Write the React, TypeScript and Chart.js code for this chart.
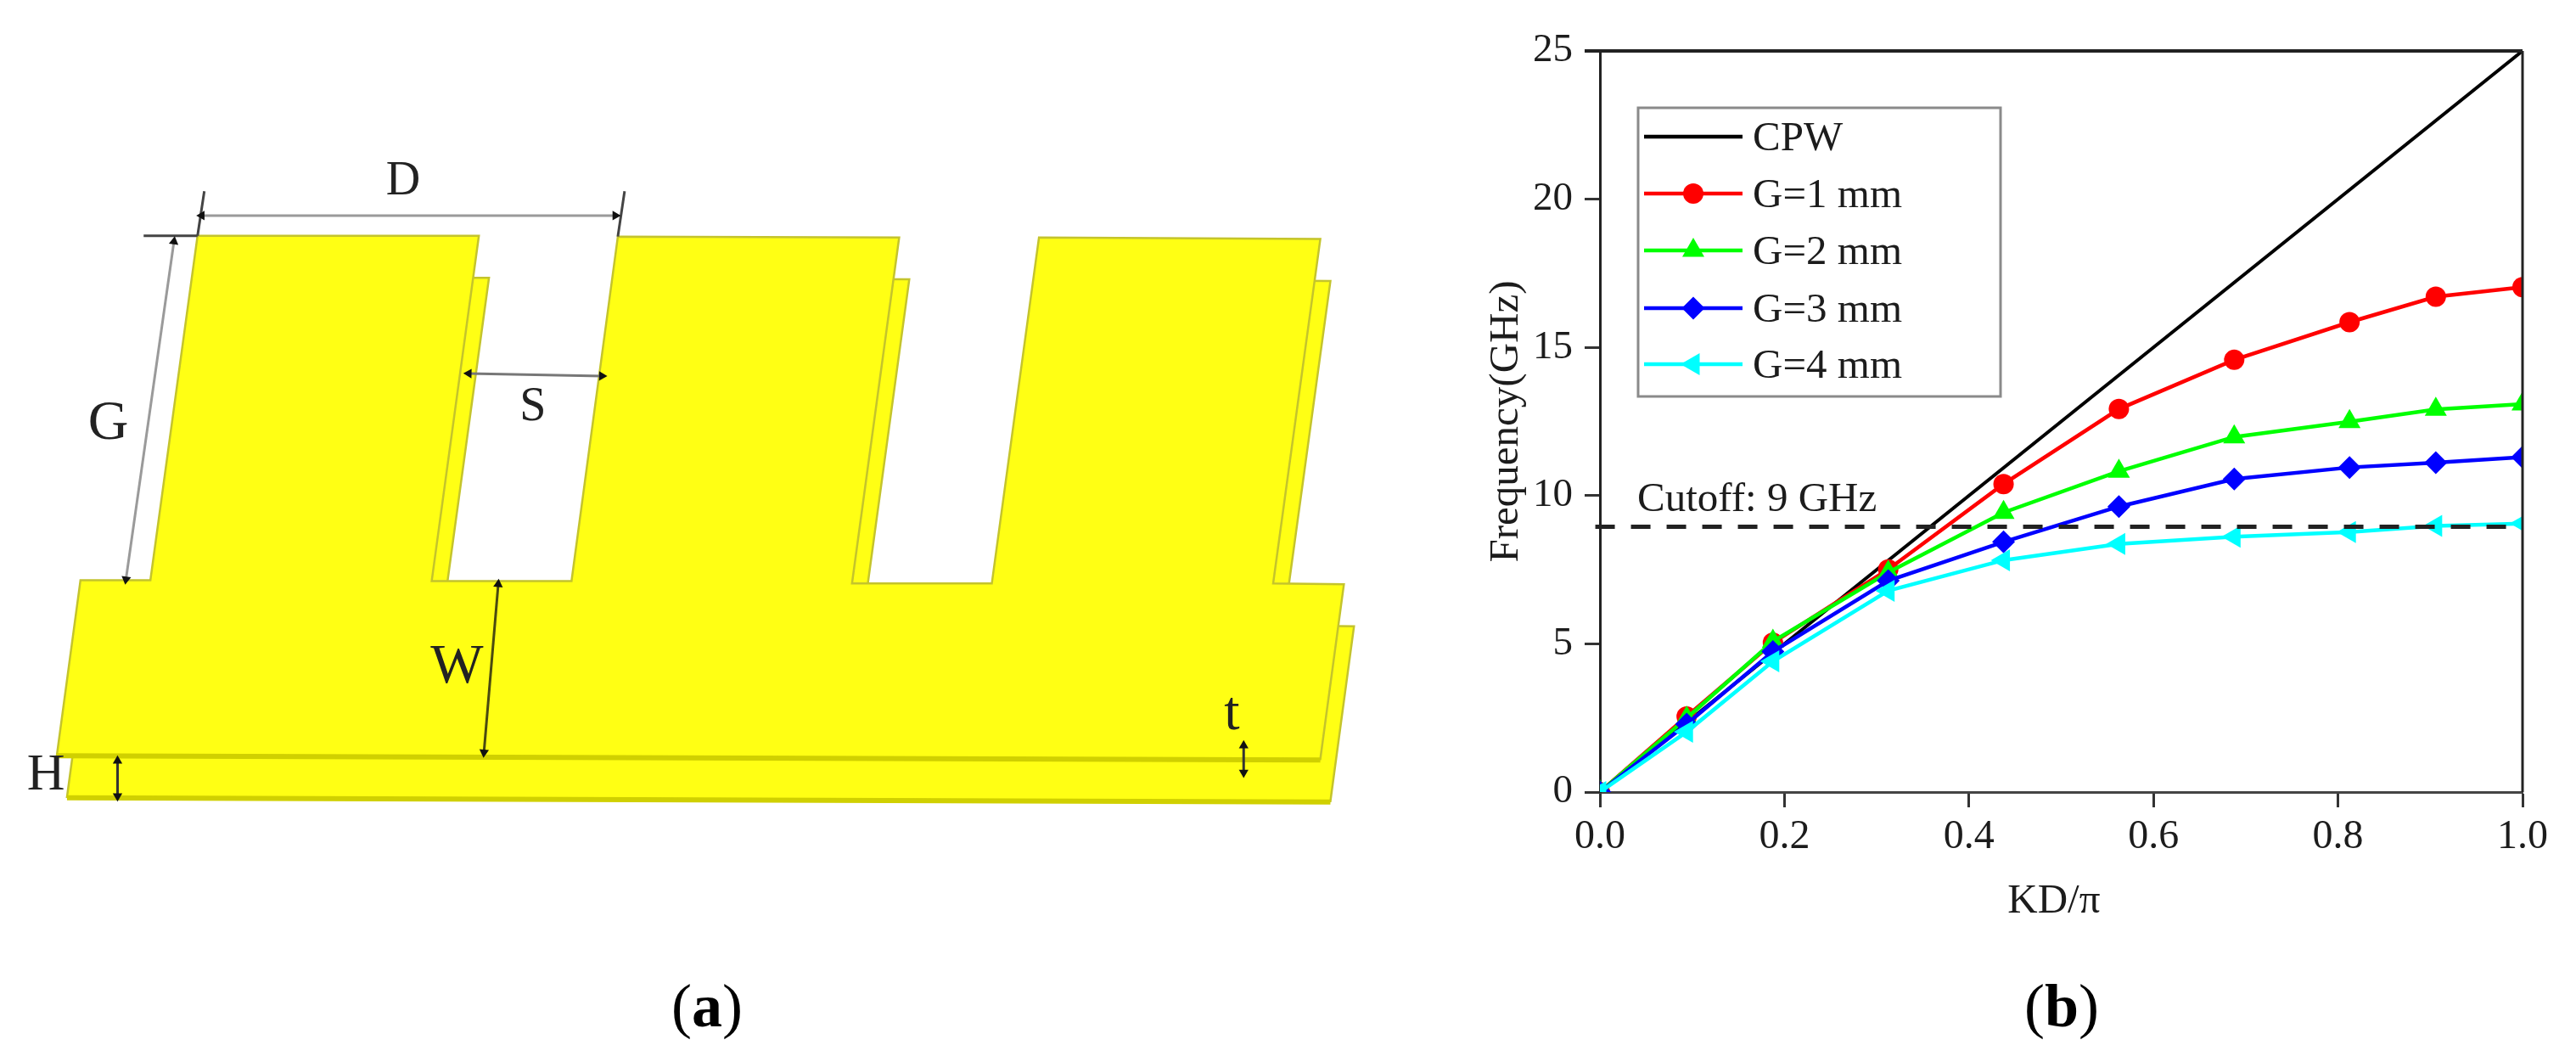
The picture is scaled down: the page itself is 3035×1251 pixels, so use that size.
import React, { useEffect, useRef } from "react";
import { Chart, registerables } from "chart.js";
import { drawPoint } from "chart.js/helpers";

Chart.register(...registerables);

const SERIF = '"Liberation Serif", "Times New Roman", serif';

// ---------- dispersion data (panel b) ----------
const kd = [0, 0.094, 0.1875, 0.3125, 0.4375, 0.5625, 0.6875, 0.8125, 0.906, 1.0];
const g1 = [0, 2.55, 5.04, 7.51, 10.39, 12.92, 14.58, 15.85, 16.71, 17.03];
const g2 = [0, 2.49, 5.08, 7.41, 9.43, 10.82, 11.98, 12.49, 12.91, 13.09];
const g3 = [0, 2.29, 4.74, 7.13, 8.44, 9.63, 10.56, 10.95, 11.11, 11.3];
const g4 = [0, 2.03, 4.41, 6.79, 7.82, 8.37, 8.61, 8.77, 8.98, 9.06];
const cpwX = [0, 1];
const cpwY = [0, 25];
const cutoffX = [-0.005, 1];
const cutoffY = [8.95, 8.95];
const yTicks = [0, 5, 10, 15, 20, 25];
const xTicks = [0, 0.2, 0.4, 0.6, 0.8, 1.0];

// ---------- schematic outline (panel a), in the diagram's own units ----------
const frontPlate: [number, number][] = [
  [228, 274], [562, 274], [506, 685], [672, 685], [727, 275], [1061, 276], [1005, 688], [1171, 688],
  [1227, 276], [1561, 278], [1505, 688], [1589, 689], [1561, 897], [61, 892], [89, 684], [172, 684], [228, 274],
];
const backPlate: [number, number][] = [
  [240, 324], [574, 324], [518, 735], [684, 735], [739, 325], [1073, 326], [1017, 738], [1183, 738],
  [1239, 326], [1573, 328], [1517, 738], [1601, 739], [1573, 947], [73, 942], [101, 734], [184, 734], [240, 324],
];
const frontEdge: [number, number][] = [[61, 893], [1561, 898]];
const backEdge: [number, number][] = [[73, 943], [1573, 948]];
const tickD1: [number, number][] = [[228, 274], [236, 221]];
const tickD2: [number, number][] = [[727, 275], [735, 221]];
const tickG: [number, number][] = [[164, 274], [228, 274]];
const dimD: [number, number][] = [[233, 250], [724, 250]];
const dimG: [number, number][] = [[200, 281], [143, 683]];
const dimS: [number, number][] = [[550, 438], [708, 441]];
const dimW: [number, number][] = [[585, 689], [568, 889]];
const dimH: [number, number][] = [[133, 899], [133, 941]];
const dimT: [number, number][] = [[1470, 881], [1470, 913]];
const schematicLabels: [string, number, number, number][] = [
  ["D", 472, 210, 56], ["G", 122, 498, 66], ["S", 626, 479, 56], ["W", 536, 788, 66], ["H", 48, 917, 62], ["t", 1456, 844, 66],
];

const legendBox = { left: 230, top: 127, right: 657, bottom: 467 };
const legendRows = [161, 228, 295, 363, 429];

const xy = (xs: number[], ys: number[]) => xs.map((x, i) => ({ x, y: ys[i] }));
const pts = (a: [number, number][]) => a.map(([x, y]) => ({ x, y }));

const poly = (data: [number, number][], stroke: string) => ({
  data: pts(data),
  showLine: true,
  fill: "shape",
  backgroundColor: "#ffff14",
  borderColor: stroke,
  borderWidth: 2.5,
  pointRadius: 0,
  tension: 0,
});
const seg = (data: [number, number][], color: string, width: number) => ({
  data: pts(data),
  showLine: true,
  fill: false,
  borderColor: color,
  borderWidth: width,
  pointRadius: 0,
});
const dim = (data: [number, number][], color: string) => {
  const [[x0, y0], [x1, y1]] = data;
  const forward = (Math.atan2(x1 - x0, -(y1 - y0)) * 180) / Math.PI;
  return {
    data: pts(data),
    showLine: true,
    fill: false,
    borderColor: color,
    borderWidth: 3,
    pointStyle: "triangle",
    pointRadius: 6.5,
    pointRotation: [forward + 180, forward],
    pointBackgroundColor: "#111",
    pointBorderColor: "#111",
    pointBorderWidth: 0,
  };
};

const schematicText = {
  id: "schematicText",
  afterDatasetsDraw(chart: any) {
    const { ctx, scales } = chart;
    ctx.save();
    ctx.fillStyle = "#222";
    ctx.textAlign = "center";
    ctx.textBaseline = "middle";
    schematicLabels.forEach(([t, x, y, size]) => {
      ctx.font = `${size}px ${SERIF}`;
      ctx.fillText(t, scales.x.getPixelForValue(x), scales.y.getPixelForValue(y));
    });
    ctx.restore();
  },
};

const chartDecor = {
  id: "chartDecor",
  afterDatasetsDraw(chart: any) {
    const { ctx, chartArea: a, scales } = chart;
    ctx.save();
    // plot frame: top and right sides
    ctx.strokeStyle = "#222";
    ctx.lineWidth = 4;
    ctx.beginPath();
    ctx.moveTo(a.left - 18, a.top);
    ctx.lineTo(a.right, a.top);
    ctx.stroke();
    ctx.lineWidth = 3;
    ctx.beginPath();
    ctx.moveTo(a.right, a.top);
    ctx.lineTo(a.right, a.bottom);
    ctx.stroke();

    ctx.fillStyle = "#1c1c1c";
    ctx.textBaseline = "alphabetic";
    ctx.textAlign = "left";
    ctx.font = `49px ${SERIF}`;
    ctx.fillText("Cutoff: 9 GHz", 229, 602);

    ctx.textAlign = "center";
    ctx.font = `49px ${SERIF}`;
    ctx.fillText("KD/π", scales.x.getPixelForValue(0.492), 1075);

    // legend, topmost row first
    const w = legendBox.right - legendBox.left;
    const h = legendBox.bottom - legendBox.top;
    ctx.fillStyle = "#fff";
    ctx.fillRect(legendBox.left, legendBox.top, w, h);
    ctx.strokeStyle = "#8a8a8a";
    ctx.lineWidth = 3;
    ctx.strokeRect(legendBox.left, legendBox.top, w, h);
    const entries = chart.data.datasets.filter((d: any) => d.inLegend).reverse();
    entries.forEach((d: any, i: number) => {
      const y = legendRows[i];
      ctx.strokeStyle = d.borderColor;
      ctx.lineWidth = 4.5;
      ctx.beginPath();
      ctx.moveTo(237, y);
      ctx.lineTo(353, y);
      ctx.stroke();
      if (d.pointRadius > 0) {
        ctx.fillStyle = d.backgroundColor;
        ctx.strokeStyle = d.backgroundColor;
        ctx.lineWidth = 0;
        drawPoint(ctx, { pointStyle: d.pointStyle, radius: d.pointRadius, rotation: d.pointRotation || 0, borderWidth: 0 }, 295, y);
      }
      ctx.fillStyle = "#1c1c1c";
      ctx.textAlign = "left";
      ctx.textBaseline = "alphabetic";
      ctx.font = `49px ${SERIF}`;
      ctx.fillText(d.label, 365, y + 16);
    });
    ctx.restore();
  },
};

const series = (label: string, ys: number[], color: string, style: string, radius: number, rotation = 0) => ({
  label,
  inLegend: true,
  data: xy(kd, ys),
  showLine: true,
  borderColor: color,
  backgroundColor: color,
  borderWidth: 4.5,
  pointStyle: style,
  pointRadius: radius,
  pointRotation: rotation,
  pointBorderWidth: 0,
  pointBackgroundColor: color,
  tension: 0,
  fill: false,
});

export default function App() {
  const leftRef = useRef<HTMLCanvasElement>(null);
  const rightRef = useRef<HTMLCanvasElement>(null);

  useEffect(() => {
    document.body.style.background = "#fff";

    const left = new Chart(leftRef.current!, {
      type: "scatter",
      data: {
        datasets: [
          dim(dimD, "#9a9a9a"), dim(dimG, "#9a9a9a"), dim(dimS, "#777"), dim(dimW, "#4a4a10"), dim(dimH, "#333"), dim(dimT, "#333"),
          seg(tickD1, "#444", 3), seg(tickD2, "#444", 3), seg(tickG, "#444", 3),
          seg(frontEdge, "#d0d000", 6),
          poly(frontPlate, "#c4c42c"),
          seg(backEdge, "#d0d000", 6),
          poly(backPlate, "#c4c42c"),
        ] as any,
      },
      plugins: [schematicText],
      options: {
        animation: false,
        responsive: false,
        layout: { padding: 0 },
        plugins: { legend: { display: false }, tooltip: { enabled: false } },
        scales: {
          x: { type: "linear", min: 0, max: 1700, display: false },
          y: { type: "linear", min: 0, max: 1251, reverse: true, display: false },
        },
      } as any,
    });

    const right = new Chart(rightRef.current!, {
      type: "scatter",
      data: {
        datasets: [
          {
            label: "Cutoff",
            data: xy(cutoffX, cutoffY),
            showLine: true,
            clip: false,
            borderColor: "#222",
            borderWidth: 5,
            borderDash: [23, 19],
            pointRadius: 0,
            fill: false,
          },
          series("G=4 mm", g4, "#00ffff", "triangle", 15, 270),
          series("G=3 mm", g3, "#0000ff", "rectRot", 13.5),
          series("G=2 mm", g2, "#00ff00", "triangle", 15),
          series("G=1 mm", g1, "#ff0000", "circle", 12),
          {
            label: "CPW",
            inLegend: true,
            data: xy(cpwX, cpwY),
            showLine: true,
            borderColor: "#000",
            backgroundColor: "#000",
            borderWidth: 4,
            pointRadius: 0,
            fill: false,
          },
        ] as any,
      },
      plugins: [chartDecor],
      options: {
        animation: false,
        responsive: false,
        layout: { padding: { left: 46, right: 63, top: 60, bottom: 178 } },
        plugins: { legend: { display: false }, tooltip: { enabled: false } },
        scales: {
          x: {
            type: "linear",
            min: 0,
            max: 1,
            afterFit: (s: any) => { s.height = 140; },
            afterBuildTicks: (s: any) => { s.ticks = xTicks.map((value) => ({ value })); },
            border: { color: "#444", width: 3 },
            grid: { drawOnChartArea: false, tickLength: 18, tickWidth: 3, tickColor: "#333" },
            ticks: {
              color: "#1c1c1c",
              padding: 7,
              maxRotation: 0,
              font: { family: SERIF, size: 48 },
              callback: (v: any) => Number(v).toFixed(1),
            },
          },
          y: {
            type: "linear",
            min: 0,
            max: 25,
            afterFit: (s: any) => { s.width = 139; },
            afterBuildTicks: (s: any) => { s.ticks = yTicks.map((value) => ({ value })); },
            border: { color: "#222", width: 3 },
            grid: { drawOnChartArea: false, tickLength: 18, tickWidth: 3, tickColor: "#333" },
            ticks: {
              color: "#1c1c1c",
              padding: 14,
              font: { family: SERIF, size: 47 },
            },
            title: {
              display: true,
              text: "Frequency(GHz)",
              color: "#1c1c1c",
              font: { family: SERIF, size: 49 },
              padding: { top: 0, bottom: 0 },
            },
          },
        },
      } as any,
    });

    return () => {
      left.destroy();
      right.destroy();
    };
  }, []);

  const caption: React.CSSProperties = {
    position: "absolute",
    top: 1140,
    fontFamily: SERIF,
    fontSize: 72,
    lineHeight: "90px",
    color: "#000",
    whiteSpace: "nowrap",
  };

  return (
    <div style={{ position: "absolute", left: 0, top: 0, width: 3035, height: 1251, overflow: "hidden", background: "#fff" }}>
      <canvas ref={leftRef} width={1700} height={1251} style={{ position: "absolute", left: 0, top: 0, width: 1700, height: 1251, filter: "blur(0.7px)" }} />
      <canvas ref={rightRef} width={1335} height={1251} style={{ position: "absolute", left: 1700, top: 0, width: 1335, height: 1251, filter: "blur(0.7px)" }} />
      <div style={{ ...caption, left: 791 }}>(<b>a</b>)</div>
      <div style={{ ...caption, left: 2385 }}>(<b>b</b>)</div>
    </div>
  );
}
